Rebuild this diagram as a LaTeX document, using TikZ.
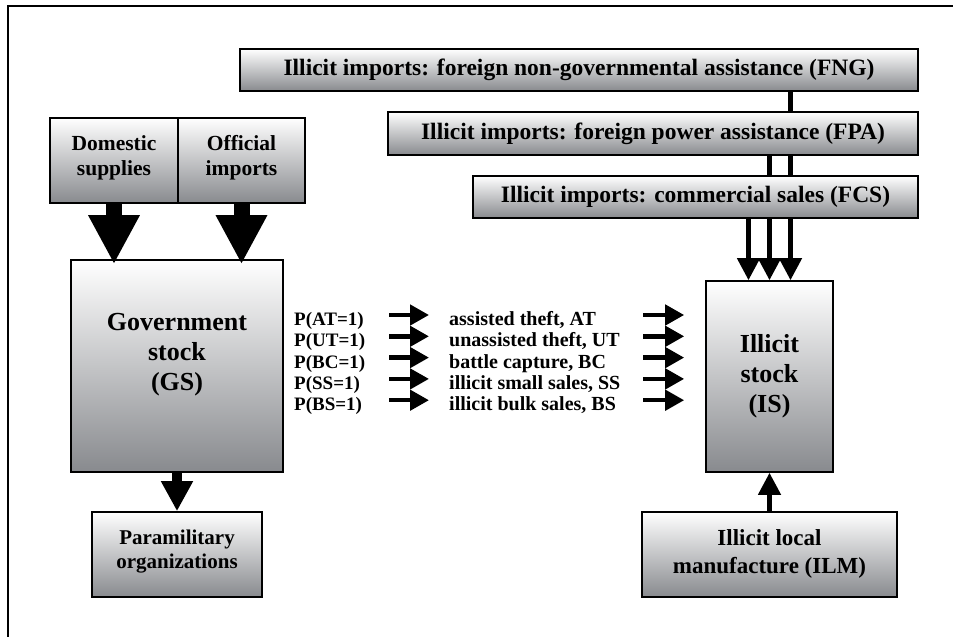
\documentclass[tikz,border=0pt]{standalone}
\usepackage{fontspec}
\setmainfont{Liberation Serif}
\usetikzlibrary{arrows.meta,backgrounds}
\definecolor{boxgray}{RGB}{136,138,142}
\definecolor{boxmid}{RGB}{206,207,209}

\begin{document}
\begin{tikzpicture}[x=1pt, y=-1pt, font=\bfseries,
	box/.style={draw=black, line width=1.6pt, top color=white, middle color=boxmid, bottom color=boxgray, align=center, inner sep=0pt},
	blockarrow/.style={line width=16pt, -{Triangle[width=48pt, length=49pt]}},
	downarrow/.style={line width=10pt, -{Triangle[width=30pt, length=30pt]}},
	thinarrow/.style={line width=4.5pt, -{Triangle[width=22pt, length=22pt]}},
	flowarrow/.style={line width=4.5pt, -{Triangle[width=20pt, length=19pt]}},
	problabel/.style={anchor=west, inner sep=0pt, text height=12pt, text depth=4pt, font=\bfseries\fontsize{19}{21}\selectfont},
	flowlabel/.style={anchor=west, inner sep=0pt, text height=12pt, text depth=4pt, font=\bfseries\fontsize{20}{22}\selectfont}]
	\useasboundingbox (0, 0) rectangle (953, 637);
	% The frame
	\draw[line width=1.5pt] (8, 637) -- (8, 6) -- (953, 6);
	% The illicit imports
	\node[box, minimum width=678, minimum height=42, font=\bfseries\fontsize{23.5}{27}\selectfont] (fng) at (579, 70) {Illicit imports: foreign non-governmental assistance (FNG)};
	\node[box, minimum width=530, minimum height=43, font=\bfseries\fontsize{23.5}{27}\selectfont] (fpa) at (653, 133.5) {Illicit imports: foreign power assistance (FPA)};
	\node[box, minimum width=445, minimum height=42, font=\bfseries\fontsize{23.5}{27}\selectfont] (fcs) at (695.5, 197) {Illicit imports: commercial sales (FCS)};
	% The legal supplies
	\node[box, minimum width=128, minimum height=85, font=\bfseries\fontsize{21.5}{25}\selectfont] (dom) at (114, 160.5) {Domestic\\supplies\rule[-10pt]{0pt}{0pt}};
	\node[box, minimum width=127, minimum height=85, font=\bfseries\fontsize{21.5}{25}\selectfont] (off) at (241.5, 160.5) {Official\\imports\rule[-10pt]{0pt}{0pt}};
	% The two stocks
	\node[box, minimum width=212, minimum height=212, font=\bfseries\fontsize{26}{30}\selectfont] (gs) at (177, 366) {Government\\stock\\(GS)\rule[-28pt]{0pt}{0pt}};
	\node[box, minimum width=127, minimum height=191, font=\bfseries\fontsize{26}{30}\selectfont] (is) at (769.5, 376.5) {Illicit\\stock\\(IS)};
	% The boxes at the bottom
	\node[box, minimum width=170, minimum height=85, font=\bfseries\fontsize{21}{24}\selectfont] (para) at (177, 554.5) {Paramilitary\\organizations\rule[-10pt]{0pt}{0pt}};
	\node[box, minimum width=255, minimum height=85, font=\bfseries\fontsize{23}{28}\selectfont] (ilm) at (769.5, 554.5) {Illicit local\\manufacture (ILM)\rule[-6pt]{0pt}{0pt}};
	% Flows into and out of the government stock
	\draw[blockarrow, shorten >=-5pt] (dom.south) -- (dom.south |- gs.north);
	\draw[blockarrow, shorten >=-5pt] (off.south) -- (off.south |- gs.north);
	\draw[downarrow] (gs.south) -- (para.north);
	% Flows into the illicit stock
	\coordinate (fngin) at ([xshift=21pt]is.north);
	\coordinate (fpain) at (is.north);
	\coordinate (fcsin) at ([xshift=-21pt]is.north);
	\begin{scope}[on background layer]
	\draw[thinarrow] (fngin |- fng.south) -- (fngin);
	\draw[thinarrow] (fpain |- fpa.south) -- (fpain);
	\draw[thinarrow] (fcsin |- fcs.south) -- (fcsin);
	\end{scope}
	\draw[thinarrow] (ilm.north) -- (is.south);
	% The leakages from the government stock
	\foreach \y / \ev / \txt in {315/AT/{assisted theft, AT}, 336.3/UT/{unassisted theft, UT}, 357.6/BC/{battle capture, BC}, 378.9/SS/{illicit small sales, SS}, 400.2/BS/{illicit bulk sales, BS}}
	{
		\node[problabel] (p\ev) at (294, \y+6.5) {P(\ev=1)};
		\node[flowlabel] (m\ev) at (449, \y+6.5) {\txt};
		\draw[flowarrow, shorten >=20pt] ([xshift=95pt, yshift=6.5pt]p\ev.west) -- ([yshift=6.5pt]m\ev.west);
		\draw[flowarrow, shorten >=21pt] ([xshift=194pt, yshift=6.5pt]m\ev.west) -- ([yshift=6.5pt]m\ev.west -| is.west);
	}
\end{tikzpicture}
\end{document}
